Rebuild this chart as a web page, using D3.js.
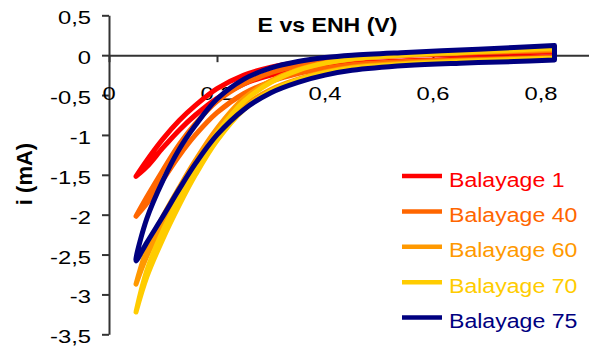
<!DOCTYPE html>
<html><head><meta charset="utf-8">
<script src="https://cdn.jsdelivr.net/npm/d3@7"></script>
<style>body{margin:0;background:#fff;} svg{display:block;font-family:Arial,"Liberation Sans",sans-serif;}</style>
</head><body><svg id="c" width="589" height="352"></svg>
<script>
// Potential grid (V vs ENH)
const potentials = [0.05,0.07,0.10,0.13,0.16,0.20,0.25,0.30,0.35,0.40,0.45,0.55,0.65,0.75,0.825];
// Current (mA): upper and lower branches of each scan loop
const b1Upper  = [-1.52,-1.32,-1.05,-0.82,-0.63,-0.42,-0.25,-0.15,-0.09,-0.055,-0.03,0.0,0.015,0.03,0.04];
const b1Lower  = [-1.52,-1.40,-1.16,-0.94,-0.75,-0.54,-0.36,-0.25,-0.18,-0.13,-0.10,-0.07,-0.05,-0.035,-0.025];
const b40Upper = [-2.02,-1.78,-1.44,-1.12,-0.86,-0.58,-0.36,-0.22,-0.13,-0.075,-0.04,0.0,0.025,0.045,0.06];
const b40Lower = [-2.02,-1.86,-1.56,-1.26,-1.00,-0.72,-0.48,-0.33,-0.23,-0.165,-0.12,-0.08,-0.06,-0.04,-0.025];
const b60Upper = [-2.87,-2.44,-2.02,-1.66,-1.32,-0.92,-0.54,-0.32,-0.18,-0.10,-0.05,0.0,0.03,0.055,0.075];
const b60Lower = [-2.87,-2.52,-2.12,-1.76,-1.42,-1.02,-0.64,-0.43,-0.30,-0.21,-0.15,-0.10,-0.07,-0.05,-0.035];
const b70Upper = [-3.22,-2.70,-2.20,-1.79,-1.40,-0.98,-0.58,-0.34,-0.19,-0.10,-0.045,0.005,0.035,0.065,0.09];
const b70Lower = [-3.22,-2.78,-2.30,-1.88,-1.50,-1.07,-0.68,-0.45,-0.31,-0.22,-0.16,-0.11,-0.08,-0.055,-0.04];
const b75Upper = [-2.55,-2.05,-1.57,-1.18,-0.88,-0.55,-0.30,-0.16,-0.08,-0.03,0.0,0.035,0.065,0.095,0.12];
const b75Lower = [-2.58,-2.35,-2.02,-1.68,-1.36,-1.00,-0.68,-0.47,-0.34,-0.25,-0.19,-0.13,-0.10,-0.08,-0.06];

const seriesNames = ["Balayage 1","Balayage 40","Balayage 60","Balayage 70","Balayage 75"];
const seriesColors = ["#FF0000","#FF6600","#FF9900","#FFCC00","#000080"];
const upperBranches = [b1Upper,b40Upper,b60Upper,b70Upper,b75Upper];
const lowerBranches = [b1Lower,b40Lower,b60Lower,b70Lower,b75Lower];

const xTicks = [0,0.2,0.4,0.6,0.8];
const yTicks = [-3.5,-3,-2.5,-2,-1.5,-1,-0.5,0,0.5];
const titleText = "E vs ENH (V)";
const yLabelText = "i (mA)";

const svg = d3.select("#c");
const x = d3.scaleLinear().domain([0,0.9]).range([109,595]);
const y = d3.scaleLinear().domain([-3.5,0.5]).range([334.3,15.3]);
const fmt = d => String(d).replace(".", ",");

// X axis (crosses at 0)
const gx = svg.append("g").attr("transform",`translate(0,${y(0)})`)
  .call(d3.axisBottom(x).tickValues(xTicks).tickSize(7).tickSizeOuter(0).tickFormat(""));
gx.select(".domain").attr("stroke","#333").attr("stroke-width",2);
gx.selectAll(".tick line").attr("stroke","#333").attr("stroke-width",2);

// Y axis
const gy = svg.append("g").attr("transform",`translate(${x(0)},0)`)
  .call(d3.axisLeft(y).tickValues(yTicks).tickSize(7).tickSizeOuter(0).tickFormat(""));
gy.select(".domain").attr("stroke","#333").attr("stroke-width",2);
gy.selectAll(".tick line").attr("stroke","#333").attr("stroke-width",2);

// Tick labels
const sx = 1.28;
svg.append("g").selectAll("g").data(xTicks).join("g")
  .attr("transform", d => `translate(${x(d)},100) scale(${sx},1)`)
  .append("text").attr("text-anchor","middle").attr("font-size",18.6).attr("fill","#000").text(fmt);
svg.append("g").selectAll("g").data(yTicks).join("g")
  .attr("transform", d => `translate(91,${y(d)+9}) scale(${sx},1)`)
  .append("text").attr("text-anchor","end").attr("font-size",18.6).attr("fill","#000").text(fmt);

// Title & y label
svg.append("g").attr("transform","translate(327.5,31.5) scale(1.1,1)")
  .append("text").attr("text-anchor","middle").attr("font-size",21).attr("font-weight","bold").text(titleText);
svg.append("text").attr("transform","translate(32,174) rotate(-90)")
  .attr("text-anchor","middle").attr("font-size",22).attr("font-weight","bold").text(yLabelText);

// Series (closed CV loops)
const line = d3.line().x(d=>x(d[0])).y(d=>y(d[1])).curve(d3.curveCatmullRom.alpha(0.5));
seriesNames.forEach((name,k)=>{
  const lower = potentials.map((e,j)=>[e, lowerBranches[k][j]]);
  const upper = potentials.map((e,j)=>[e, upperBranches[k][j]]);
  const pts = lower.slice().reverse().concat(upper);
  svg.append("path").attr("d", line(pts) + "Z").attr("fill","none")
    .attr("stroke", seriesColors[k]).attr("stroke-width",5)
    .attr("stroke-linejoin","round").attr("stroke-linecap","round");
});

// Legend
const lg = svg.append("g");
seriesNames.forEach((name,k)=>{
  const ly = 176 + k*35.4;
  lg.append("line").attr("x1",402).attr("x2",442).attr("y1",ly).attr("y2",ly)
    .attr("stroke",seriesColors[k]).attr("stroke-width",4.5);
  lg.append("g").attr("transform",`translate(449,${ly+10.5}) scale(1.1,1)`)
    .append("text").attr("font-size",21).attr("fill",seriesColors[k]).text(name);
});
</script></body></html>
